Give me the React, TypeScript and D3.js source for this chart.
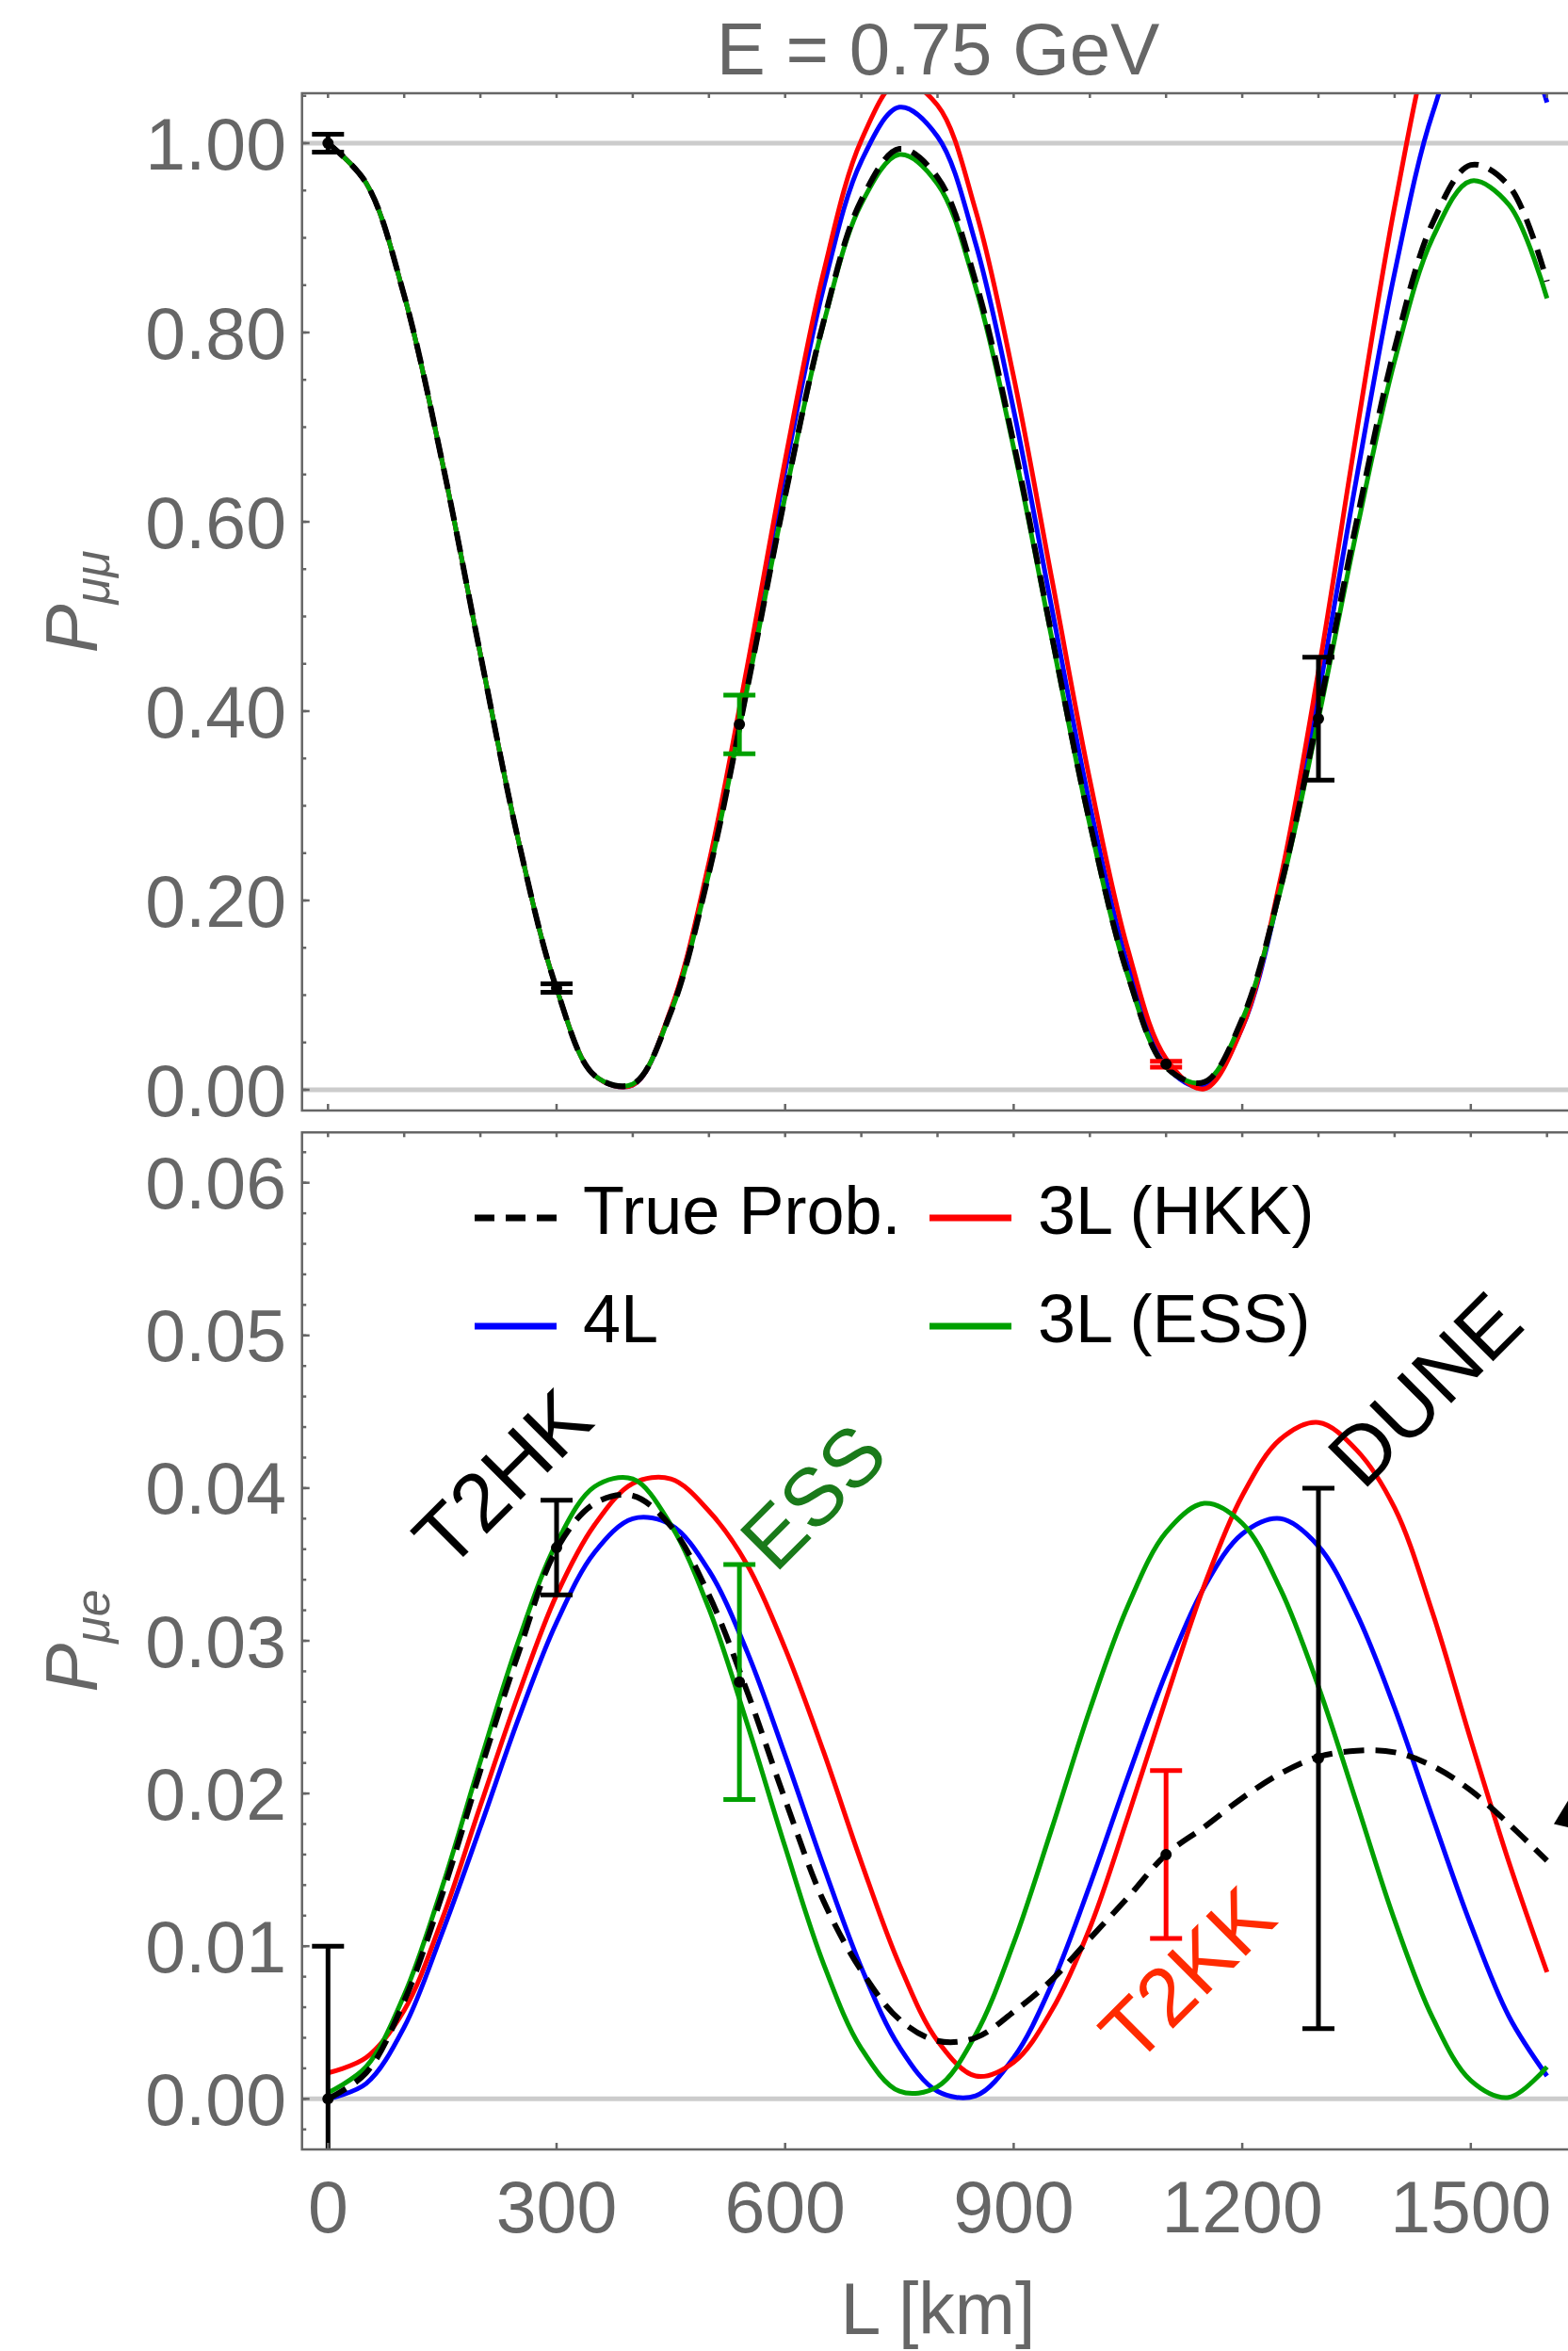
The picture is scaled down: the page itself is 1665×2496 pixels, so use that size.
import React, { useRef, useEffect } from 'react';
import * as d3 from 'd3';

// baseline distance grid (km)
const distances = [0, 50, 100, 150, 200, 250, 300, 350, 400, 450, 500, 550, 600, 650, 700, 750, 800,
  850, 900, 950, 1000, 1050, 1100, 1150, 1200, 1250, 1300, 1350, 1400, 1450, 1500, 1550, 1600];

// P_mumu (upper panel)
const pmmTrue = [1.000, 0.958, 0.839, 0.663, 0.460, 0.263, 0.107, 0.015, 0.006, 0.082, 0.229, 0.423, 0.627, 0.810, 0.940, 0.994, 0.964,
  0.854, 0.683, 0.480, 0.282, 0.121, 0.024, 0.008, 0.075, 0.213, 0.398, 0.600, 0.783, 0.916, 0.977, 0.955, 0.854];
const pmm4L = [1.000, 0.958, 0.839, 0.663, 0.460, 0.263, 0.107, 0.015, 0.005, 0.084, 0.237, 0.440, 0.654, 0.846, 0.981, 1.038, 1.007,
  0.894, 0.718, 0.509, 0.301, 0.131, 0.025, 0.003, 0.066, 0.213, 0.417, 0.646, 0.863, 1.032, 1.126, 1.130, 1.043];
const pmmHKK = [1.000, 0.958, 0.839, 0.663, 0.460, 0.263, 0.107, 0.015, 0.005, 0.085, 0.240, 0.446, 0.665, 0.862, 1.003, 1.066, 1.040,
  0.929, 0.753, 0.540, 0.327, 0.148, 0.033, 0.001, 0.066, 0.222, 0.442, 0.694, 0.933, 1.122, 1.231, 1.249, 1.230];
const pmmESS = [1.000, 0.958, 0.839, 0.663, 0.460, 0.263, 0.107, 0.015, 0.006, 0.082, 0.229, 0.423, 0.627, 0.808, 0.936, 0.988, 0.957,
  0.848, 0.678, 0.477, 0.280, 0.120, 0.024, 0.008, 0.074, 0.210, 0.392, 0.590, 0.770, 0.900, 0.960, 0.935, 0.836];

// P_mue (lower panel)
const pmeTrue = [0.0000, 0.0017, 0.0064, 0.0134, 0.0215, 0.0292, 0.0360, 0.0390, 0.0395, 0.0375, 0.0330, 0.0267, 0.0196, 0.0130, 0.0084, 0.0052, 0.0038,
  0.0040, 0.0057, 0.0078, 0.0105, 0.0132, 0.0160, 0.0178, 0.0197, 0.0213, 0.0224, 0.0228, 0.0227, 0.0218, 0.0202, 0.0180, 0.0156];
const pme4L = [0.0000, 0.0010, 0.0047, 0.0109, 0.0178, 0.0249, 0.0312, 0.0358, 0.0380, 0.0376, 0.0346, 0.0293, 0.0225, 0.0153, 0.0086, 0.0034, 0.0005,
  0.0002, 0.0027, 0.0075, 0.0140, 0.0211, 0.0279, 0.0335, 0.0370, 0.0380, 0.0362, 0.0318, 0.0256, 0.0184, 0.0114, 0.0054, 0.0015];
const pmeHKK = [0.0017, 0.0027, 0.0058, 0.0118, 0.0192, 0.0265, 0.0330, 0.0376, 0.0403, 0.0406, 0.0385, 0.0350, 0.0295, 0.0228, 0.0155, 0.0088, 0.0038,
  0.0015, 0.0024, 0.0058, 0.0112, 0.0185, 0.0262, 0.0336, 0.0395, 0.0432, 0.0443, 0.0425, 0.0387, 0.0318, 0.0235, 0.0155, 0.0083];
const pmeESS = [0.0004, 0.0021, 0.0068, 0.0139, 0.0221, 0.0300, 0.0364, 0.0401, 0.0406, 0.0376, 0.0321, 0.0246, 0.0165, 0.0089, 0.0033, 0.0005, 0.0008,
  0.0042, 0.0102, 0.0177, 0.0255, 0.0323, 0.0371, 0.0390, 0.0377, 0.0334, 0.0270, 0.0194, 0.0117, 0.0053, 0.0012, 0.0001, 0.0021];

// experiment error bars
const barL = [0, 300, 540, 1100, 1300];
const barColors = ['#000000', '#000000', '#00a000', '#ff0000', '#000000'];
const pmmBarMid = [1.0, 0.1075, 0.386, 0.027, 0.392];
const pmmBarErr = [0.0095, 0.0045, 0.031, 0.003, 0.065];
const pmeBarMid = [0.0, 0.0361, 0.0273, 0.016, 0.0223];
const pmeBarErr = [0.01, 0.0031, 0.0077, 0.0055, 0.0177];

const xTicks = [0, 300, 600, 900, 1200, 1500];
const pmmTicks = [0, 0.2, 0.4, 0.6, 0.8, 1.0];
const pmeTicks = [0, 0.01, 0.02, 0.03, 0.04, 0.05, 0.06];

const legendLabels = ['True Prob.', '3L (HKK)', '4L', '3L (ESS)'];
const expLabels = ['T2HK', 'ESS', 'T2KK', 'DUNE'];

function App() {
  const ref = useRef<SVGSVGElement | null>(null);

  useEffect(() => {
    const svg = d3.select(ref.current);
    svg.selectAll('*').remove();

    const font = '"Liberation Sans", Arial, sans-serif';
    const gray = '#666666';
    const frameLeft = 320.7;
    const frameRight = 1672;

    const x = d3.scaleLinear().domain([0, 1500]).range([348.3, 1561.8]);
    const yTop = d3.scaleLinear().domain([0, 1]).range([1157, 152]);
    const yBot = d3.scaleLinear().domain([0, 0.06]).range([2228.3, 1255.7]);

    const seriesColors = ['#0000ff', '#ff0000', '#00a000', '#000000'];

    const panels = [
      {
        id: 'mm', top: 99, bottom: 1179, y: yTop,
        series: [pmm4L, pmmHKK, pmmESS, pmmTrue],
        ticks: pmmTicks, minor: d3.range(0, 1.051, 0.05), grid: [0, 1],
        mid: pmmBarMid, err: pmmBarErr, sub: 'μμ',
      },
      {
        id: 'me', top: 1202.3, bottom: 2282, y: yBot,
        series: [pme4L, pmeHKK, pmeESS, pmeTrue],
        ticks: pmeTicks, minor: d3.range(-0.002, 0.0631, 0.002), grid: [0],
        mid: pmeBarMid, err: pmeBarErr, sub: 'μe',
      },
    ];

    // title
    svg.append('text')
      .attr('x', 996).attr('y', 79)
      .attr('text-anchor', 'middle')
      .attr('font-family', font).attr('font-size', 78)
      .attr('fill', gray)
      .text('E = 0.75 GeV');

    panels.forEach((p) => {
      const clipId = `clip-${p.id}`;
      svg.append('clipPath').attr('id', clipId)
        .append('rect')
        .attr('x', frameLeft).attr('y', p.top)
        .attr('width', frameRight - frameLeft).attr('height', p.bottom - p.top);

      const plot = svg.append('g').attr('clip-path', `url(#${clipId})`);

      // grid lines
      p.grid.forEach((g) => {
        plot.append('line')
          .attr('x1', frameLeft).attr('x2', frameRight)
          .attr('y1', p.y(g)).attr('y2', p.y(g))
          .attr('stroke', '#cccccc').attr('stroke-width', 5);
      });

      const line = d3.line<number>()
        .x((d, i) => x(distances[i]))
        .y((d) => p.y(d))
        .curve(d3.curveCatmullRom.alpha(0.5));

      p.series.forEach((s, i) => {
        const isTrue = i === 3;
        plot.append('path')
          .datum(s)
          .attr('fill', 'none')
          .attr('stroke', seriesColors[i])
          .attr('stroke-width', isTrue ? 6 : 5)
          .attr('stroke-dasharray', isTrue ? '22 12' : null)
          .attr('d', line);
      });

      // error bars
      barL.forEach((L, i) => {
        const cx = x(L);
        const y1 = p.y(p.mid[i] - p.err[i]);
        const y2 = p.y(p.mid[i] + p.err[i]);
        const g = plot.append('g').attr('stroke', barColors[i]).attr('stroke-width', 5);
        g.append('line').attr('x1', cx).attr('x2', cx).attr('y1', y1).attr('y2', y2);
        [y1, y2].forEach((yy) => {
          g.append('line').attr('x1', cx - 17).attr('x2', cx + 17).attr('y1', yy).attr('y2', yy);
        });
        plot.append('circle')
          .attr('cx', cx).attr('cy', p.y(p.mid[i])).attr('r', 6)
          .attr('fill', '#000000');
      });

      // frame
      const frame = svg.append('g').attr('stroke', gray).attr('stroke-width', 2.5).attr('fill', 'none');
      frame.append('path')
        .attr('d', `M${frameRight},${p.top}H${frameLeft}V${p.bottom}H${frameRight}`);

      // y ticks
      p.ticks.forEach((t) => {
        frame.append('line')
          .attr('x1', frameLeft).attr('x2', frameLeft + 8)
          .attr('y1', p.y(t)).attr('y2', p.y(t));
        svg.append('text')
          .attr('x', 304).attr('y', p.y(t) + 27.5)
          .attr('text-anchor', 'end')
          .attr('font-family', font).attr('font-size', 77)
          .attr('fill', gray)
          .text(d3.format('.2f')(t));
      });
      p.minor.forEach((t) => {
        const yy = p.y(t);
        if (yy < p.top || yy > p.bottom) return;
        frame.append('line')
          .attr('x1', frameLeft).attr('x2', frameLeft + 4.5)
          .attr('y1', yy).attr('y2', yy);
      });

      // x ticks: 100 km on top edge, major on bottom edge
      d3.range(0, 1601, 100).forEach((L) => {
        frame.append('line')
          .attr('x1', x(L)).attr('x2', x(L))
          .attr('y1', p.top).attr('y2', p.top + 5);
      });
      xTicks.forEach((L) => {
        frame.append('line')
          .attr('x1', x(L)).attr('x2', x(L))
          .attr('y1', p.bottom).attr('y2', p.bottom - 7);
      });

      // y axis label
      const cy = (p.top + p.bottom) / 2;
      const lab = svg.append('text')
        .attr('transform', `translate(103,${cy}) rotate(-90)`)
        .attr('text-anchor', 'middle')
        .attr('font-family', font).attr('font-style', 'italic')
        .attr('font-size', 78).attr('fill', gray);
      lab.append('tspan').text('P');
      lab.append('tspan').attr('font-size', 52).attr('dy', 13).text(p.sub);
    });

    // x tick labels and title
    xTicks.forEach((L) => {
      svg.append('text')
        .attr('x', x(L)).attr('y', 2370)
        .attr('text-anchor', 'middle')
        .attr('font-family', font).attr('font-size', 77)
        .attr('fill', gray)
        .text(String(L));
    });
    svg.append('text')
      .attr('x', 996).attr('y', 2478)
      .attr('text-anchor', 'middle')
      .attr('font-family', font).attr('font-size', 77)
      .attr('fill', gray)
      .text('L [km]');

    // legend
    const legendColors = ['#000000', '#ff0000', '#0000ff', '#00a000'];
    const legendCol = [504, 987];
    const legendRow = [1293, 1408];
    legendLabels.forEach((label, i) => {
      const lx = legendCol[i % 2];
      const ly = legendRow[Math.floor(i / 2)];
      svg.append('line')
        .attr('x1', lx).attr('x2', lx + 87)
        .attr('y1', ly).attr('y2', ly)
        .attr('stroke', legendColors[i]).attr('stroke-width', 7)
        .attr('stroke-dasharray', i === 0 ? '21 12' : null);
      svg.append('text')
        .attr('x', lx + 115).attr('y', ly + 17)
        .attr('font-family', font).attr('font-size', 72)
        .attr('fill', '#000000')
        .text(label);
    });

    // experiment labels (rotated), anchored in data coordinates of lower panel
    const labelL = [228, 636, 1127, 1439];
    const labelP = [0.0407, 0.0395, 0.0082, 0.0465];
    const labelColors = ['#000000', '#1a7a1a', '#ff2a00', '#000000'];
    expLabels.forEach((t, i) => {
      svg.append('text')
        .attr('transform', `translate(${x(labelL[i])},${yBot(labelP[i])}) rotate(-45)`)
        .attr('y', 31)
        .attr('text-anchor', 'middle')
        .attr('font-family', font).attr('font-size', 87)
        .attr('fill', labelColors[i])
        .text(t);
    });

    // arrow head cut off at the right edge of the lower panel
    const ax = x(1609);
    const ay = yBot(0.018);
    svg.append('path')
      .attr('d', `M${ax},${ay}L${ax + 17},${ay - 28}L${ax + 17},${ay + 4}Z`)
      .attr('fill', '#000000');
  }, []);

  return (
    <div style={{ position: 'absolute', left: 0, top: 0 }}>
      <svg ref={ref} width={1665} height={2496} style={{ display: 'block', background: '#ffffff' }} />
    </div>
  );
}

export default App;
